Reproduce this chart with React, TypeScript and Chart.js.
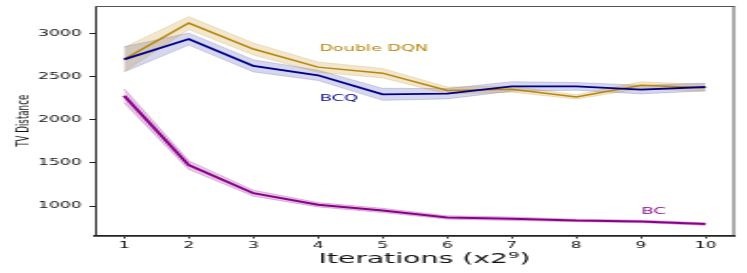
import React, { useEffect, useRef } from 'react';
import { Chart, registerables } from 'chart.js';

Chart.register(...registerables);

// ---- data ----
const iterations = [1, 2, 3, 4, 5, 6, 7, 8, 9, 10];
const ddqnMean = [2700, 3120, 2820, 2610, 2540, 2340, 2355, 2265, 2400, 2370];
const ddqnSpread = [140, 75, 70, 60, 55, 40, 35, 25, 40, 40];
const bcqMean = [2700, 2935, 2625, 2515, 2295, 2302, 2387, 2387, 2350, 2380];
const bcqSpread = [145, 70, 70, 60, 70, 60, 55, 45, 50, 45];
const bcMean = [2278, 1475, 1150, 1016, 950, 869, 854, 834, 823, 792];
const bcSpread = [80, 50, 35, 25, 25, 20, 20, 15, 15, 15];
const xTicks = [1, 2, 3, 4, 5, 6, 7, 8, 9, 10];
const yTicks = [1000, 1500, 2000, 2500, 3000];
const seriesLabels = ['Double DQN', 'BCQ', 'BC'];
const labelX = [4.02, 4.03, 9.01];
const labelY = [2823, 2244, 935];
const xTitle = 'Iterations (x2⁹)';
const yTitle = 'TV Distance';

// ---- styles ----
const FONT = '"DejaVu Sans", sans-serif';
const DISPLAY_W = 747;
const DISPLAY_H = 273;
const INTERNAL_W = 393;
const colors = ['#B8860B', '#00008B', '#8B008B'];
const bandFill = ['rgba(184,134,11,0.2)', 'rgba(0,0,139,0.16)', 'rgba(139,0,139,0.2)'];
const bandEdge = ['rgba(184,134,11,0.25)', 'rgba(0,0,139,0.2)', 'rgba(139,0,139,0.3)'];
const lineWidths = [1.5, 1.8, 2];

const pts = (vals: number[]) => iterations.map((it, i) => ({ x: it, y: vals[i] }));

const overlayPlugin = {
  id: 'overlay',
  afterDraw(chart: any) {
    const { ctx, chartArea, scales } = chart;
    const { left, right, top, bottom } = chartArea;
    ctx.save();
    ctx.strokeStyle = '#555';
    ctx.lineWidth = 1;
    ctx.beginPath();
    ctx.moveTo(left, top + 0.5);
    ctx.lineTo(right, top + 0.5);
    ctx.stroke();
    ctx.beginPath();
    ctx.moveTo(right - 0.5, top);
    ctx.lineTo(right - 0.5, bottom);
    ctx.stroke();
    ctx.font = `9.3px ${FONT}`;
    ctx.textAlign = 'left';
    ctx.textBaseline = 'middle';
    seriesLabels.forEach((t, i) => {
      ctx.fillStyle = colors[i];
      ctx.fillText(t, scales.x.getPixelForValue(labelX[i]), scales.y.getPixelForValue(labelY[i]));
    });
    // x-axis title
    ctx.fillStyle = '#111';
    ctx.font = `14.9px ${FONT}`;
    ctx.textAlign = 'center';
    ctx.textBaseline = 'middle';
    ctx.fillText(xTitle, (left + right) / 2 + 5, scales.x.bottom - 13.5);
    ctx.restore();
  },
};

export default function App() {
  const ref = useRef<HTMLCanvasElement | null>(null);

  useEffect(() => {
    const canvas = ref.current;
    if (!canvas) return;
    const means = [ddqnMean, bcqMean, bcMean];
    const spreads = [ddqnSpread, bcqSpread, bcSpread];
    const datasets: any[] = [];
    means.forEach((m, k) => {
      const s = spreads[k];
      datasets.push({
        label: seriesLabels[k] + ' upper',
        data: pts(m.map((v, i) => v + s[i])),
        borderColor: bandEdge[k],
        borderWidth: 0.8,
        pointRadius: 0,
        fill: false,
        order: 10,
      });
      datasets.push({
        label: seriesLabels[k] + ' lower',
        data: pts(m.map((v, i) => v - s[i])),
        borderColor: bandEdge[k],
        borderWidth: 0.8,
        backgroundColor: bandFill[k],
        pointRadius: 0,
        fill: '-1',
        order: 10,
      });
    });
    means.forEach((m, k) => {
      datasets.push({
        label: seriesLabels[k],
        data: pts(m),
        borderColor: colors[k],
        borderWidth: lineWidths[k],
        pointRadius: 0,
        fill: false,
        order: 3 - k,
      });
    });

    const chart = new Chart(canvas, {
      type: 'line',
      data: { datasets },
      options: {
        responsive: false,
        animation: false,
        devicePixelRatio: 1,
        layout: { padding: { left: 0, right: 6.5, top: 6, bottom: 0 } },
        plugins: { legend: { display: false }, tooltip: { enabled: false } },
        elements: { line: { tension: 0 }, point: { radius: 0 } },
        scales: {
          x: {
            type: 'linear',
            min: 0.55,
            max: 10.45,
            afterBuildTicks: (s: any) => {
              s.ticks = xTicks.map((v) => ({ value: v }));
            },
            afterFit: (s: any) => {
              s.height = 37.5;
              s.paddingLeft = 0;
              s.paddingRight = 0;
            },
            grid: { drawOnChartArea: false, drawTicks: true, tickLength: 3, color: '#222', lineWidth: 1 },
            border: { display: true, color: '#222', width: 1.8 },
            ticks: {
              font: { family: FONT, size: 9 },
              color: '#111',
              padding: 2,
              maxRotation: 0,
              autoSkip: false,
              callback: (v: any) => String(v),
            },
            title: { display: false },
          },
          y: {
            type: 'linear',
            min: 660,
            max: 3318,
            afterBuildTicks: (s: any) => {
              s.ticks = yTicks.map((v) => ({ value: v }));
            },
            afterFit: (s: any) => {
              s.width = 50;
              s.paddingTop = 0;
              s.paddingBottom = 0;
            },
            grid: { drawOnChartArea: false, drawTicks: true, tickLength: 3, color: '#222', lineWidth: 1 },
            border: { display: true, color: '#222', width: 1 },
            ticks: {
              font: { family: FONT, size: 9 },
              color: '#111',
              padding: 4,
              callback: (v: any) => String(v),
            },
            title: {
              display: true,
              text: yTitle,
              font: { family: FONT, size: 8.7 },
              color: '#111',
              padding: { top: 7.5, bottom: 0 },
            },
          },
        },
      },
      plugins: [overlayPlugin],
    } as any);

    return () => chart.destroy();
  }, []);

  return (
    <div style={{ position: 'fixed', left: 0, top: 0, width: DISPLAY_W, height: DISPLAY_H, background: '#fff' }}>
      <canvas
        ref={ref}
        width={INTERNAL_W}
        height={DISPLAY_H}
        style={{ display: 'block', width: `${DISPLAY_W}px`, height: `${DISPLAY_H}px` }}
      />
    </div>
  );
}
